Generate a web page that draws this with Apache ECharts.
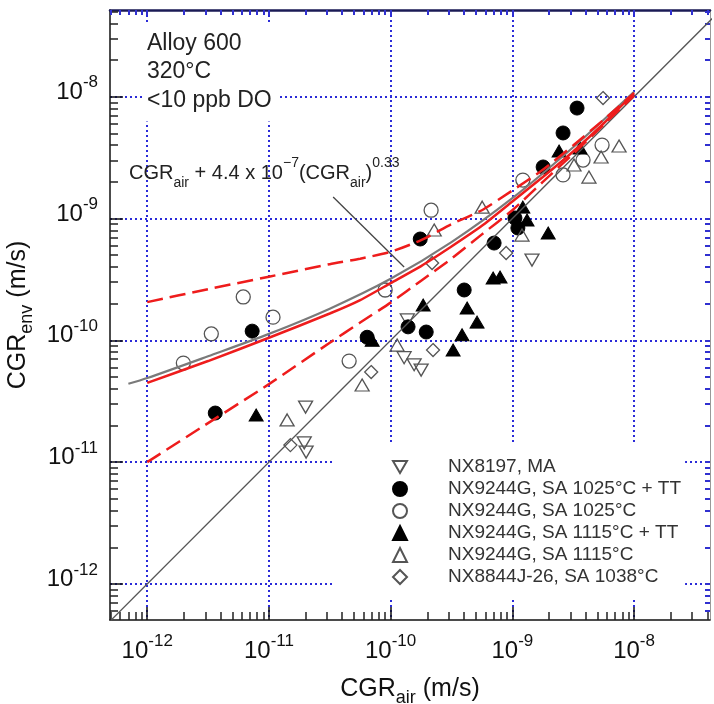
<!DOCTYPE html>
<html><head><meta charset="utf-8">
<script src="https://cdn.jsdelivr.net/npm/echarts@6/dist/echarts.min.js"></script>
<style>html,body{margin:0;padding:0;background:#fff}#c{width:714px;height:704px}</style>
</head><body><div id="c"></div>
<script>
const FONT = '"Liberation Sans", Arial, Helvetica, sans-serif';

// ---- axis extents (log10 exponents) and decade ticks ----
const X_RANGE = [-12.306, -7.376];
const Y_RANGE = [-12.296, -7.288];
const DECADES = [-12, -11, -10, -9, -8];

// ---- legend / series names ----
const NAMES = [
  'NX8197, MA',
  'NX9244G, SA 1025°C + TT',
  'NX9244G, SA 1025°C',
  'NX9244G, SA 1115°C + TT',
  'NX9244G, SA 1115°C',
  'NX8844J-26, SA 1038°C'
];

// ---- data points [CGR_air, CGR_env] (m/s) ----
const NX8197_MA = [[2.0e-11,2.83e-11],[1.95e-11,1.44e-11],[2.02e-11,1.21e-11],[1.37e-10,1.47e-10],
  [1.29e-10,7.2e-11],[1.56e-10,6.3e-11],[1.78e-10,5.7e-11],[1.45e-9,4.56e-10]];
const SA1025_TT = [[3.62e-12,2.53e-11],[7.28e-12,1.19e-10],[6.41e-11,1.06e-10],[1.39e-10,1.29e-10],
  [1.96e-10,1.17e-10],[1.75e-10,6.79e-10],[4.02e-10,2.59e-10],[7.08e-10,6.29e-10],[1.05e-9,1.01e-9],
  [1.11e-9,8.36e-10],[1.79e-9,2.65e-9],[2.61e-9,5.04e-9],[3.40e-9,8.07e-9]];
const SA1025 = [[1.98e-12,6.51e-11],[3.36e-12,1.13e-10],[6.15e-12,2.27e-10],[1.08e-11,1.55e-10],
  [4.56e-11,6.76e-11],[9.01e-11,2.59e-10],[2.15e-10,1.17e-9],[1.22e-9,2.07e-9],[2.61e-9,2.28e-9],
  [3.81e-9,3.02e-9],[5.46e-9,4.01e-9]];
const SA1115_TT = [[7.85e-12,2.44e-11],[7.05e-11,1.0e-10],[1.85e-10,1.95e-10],[3.26e-10,8.32e-11],
  [3.86e-10,1.11e-10],[4.25e-10,1.84e-10],[5.13e-10,1.41e-10],[6.95e-10,3.25e-10],[7.92e-10,3.31e-10],
  [1.22e-9,1.24e-9],[1.32e-9,9.72e-10],[1.97e-9,7.60e-10],[2.42e-9,3.58e-9],[3.60e-9,3.79e-9]];
const SA1115 = [[1.41e-11,2.22e-11],[5.83e-11,4.30e-11],[1.13e-10,9.15e-11],[2.28e-10,8.05e-10],
  [5.65e-10,1.24e-9],[1.20e-9,7.32e-10],[3.21e-9,2.75e-9],[4.26e-9,2.19e-9],[5.36e-9,3.20e-9],
  [7.53e-9,3.94e-9]];
const NX8844J = [[1.50e-11,1.38e-11],[6.92e-11,5.49e-11],[2.23e-10,8.32e-11],[2.19e-10,4.31e-10],
  [8.89e-10,5.21e-10],[5.56e-9,9.75e-9]];

// ---- curves ----
const CURVE_X   = [1e-12, 3.16e-12, 1e-11, 3.16e-11, 5.62e-11, 1e-10, 1.78e-10, 3.16e-10, 5.62e-10, 1e-9, 1.78e-9, 3.16e-9, 5.62e-9, 1e-8];
const RED_SOLID = [4.47e-11, 6.76e-11, 1.05e-10, 1.66e-10, 2.14e-10, 2.95e-10, 4.07e-10, 5.89e-10, 8.71e-10, 1.38e-9, 2.19e-9, 3.55e-9, 6.03e-9, 1.07e-8];
const RED_UPPER = [2.06e-10, 2.63e-10, 3.33e-10, 4.22e-10, 4.68e-10, 5.33e-10, 6.65e-10, 9.0e-10, 1.17e-9, 1.70e-9, 2.51e-9, 3.98e-9, 6.46e-9, 1.07e-8];
const RED_LOWER = [1.0e-11, 2.09e-11, 4.37e-11, 9.55e-11, 1.40e-10, 2.04e-10, 3.09e-10, 4.68e-10, 7.41e-10, 1.17e-9, 2.0e-9, 3.39e-9, 5.89e-9, 1.02e-8];
const GREY_X = [7.0e-13, 1e-12, 3.16e-12, 1e-11, 3.16e-11, 1e-10, 3.16e-10, 1e-9, 3.16e-9, 1e-8];
const GREY_Y = [4.4e-11, 4.9e-11, 7.4e-11, 1.13e-10, 1.82e-10, 3.2e-10, 6.4e-10, 1.47e-9, 3.85e-9, 1.1e-8];
const DIAG = [[4.9e-13, 4.9e-13], [5e-8, 5e-8]];
const LEADER = [[3.37e-11, 1.50e-9], [1.29e-10, 4.0e-10]];

// ---- helpers ----
const L = pts => pts.map(p => [Math.log10(p[0]), Math.log10(p[1])]);
const zip = (xs, ys) => xs.map((x, i) => [x, ys[i]]);
function minors(range) {
  const out = [];
  for (let n = -13; n <= -7; n++) for (let k = 2; k <= 9; k++) {
    const v = n + Math.log10(k);
    if (v > range[0] && v < range[1]) out.push(v);
  }
  return out;
}
const expLabel = v => '{b|10}{e|-' + Math.abs(Math.round(v)) + '}';
const labelRich = {
  b: { fontSize: 24, lineHeight: 30, verticalAlign: 'bottom', fontFamily: FONT, color: '#111' },
  e: { fontSize: 17, lineHeight: 17, verticalAlign: 'top', fontFamily: FONT, color: '#111' }
};
const nameRich = {
  n: { fontSize: 25, lineHeight: 30, verticalAlign: 'top', fontFamily: FONT, color: '#111' },
  s: { fontSize: 18, lineHeight: 18, verticalAlign: 'bottom', padding: [21, 0, 0, 0], fontFamily: FONT, color: '#111' }
};
const GRID_LINE = { color: '#2b2bd8', width: 2, type: [2, 3] };

const hollow = { color: 'transparent', borderColor: '#555', borderWidth: 1.3, opacity: 1 };
const filled = { color: '#000', borderColor: '#000', borderWidth: 1, opacity: 1 };
const INV_TRI = 'path://M0,0 L14,0 L7,12 Z';

function scatter(name, data, symbol, size, style) {
  return { type: 'scatter', name, data: L(data), symbol, symbolSize: size,
    itemStyle: style, z: 2, xAxisIndex: 0, yAxisIndex: 0 };
}
function line(data, color, width, type, z, smooth) {
  return { type: 'line', data: L(data), showSymbol: false, symbol: 'none', smooth: smooth || false,
    lineStyle: { color, width, type }, z, silent: true, xAxisIndex: 0, yAxisIndex: 0 };
}

const option = {
  animation: false,
  backgroundColor: '#fff',
  grid: { left: 110, top: 10, width: 600, height: 610, containLabel: false, outerBoundsMode: 'none' },
  title: [
    { text: 'Alloy 600\n320°C\n<10 ppb DO', left: 143, top: 23, padding: [6, 8, 7, 4],
      backgroundColor: '#fff',
      textStyle: { fontSize: 23, lineHeight: 28.5, fontWeight: 'normal', color: '#222', fontFamily: FONT } },
    { text: '{n|CGR}{s|air}{n| + 4.4 x 10}{p|\u22127}{n|(CGR}{s|air}{n|)}{p|0.33}', left: 129, top: 156, padding: 0,
      textStyle: { fontWeight: 'normal', rich: {
        n: { fontSize: 20, lineHeight: 34, fontWeight: 'normal', fontFamily: FONT, color: '#222' },
        s: { fontSize: 14, lineHeight: 14, verticalAlign: 'bottom', fontWeight: 'normal', fontFamily: FONT, color: '#222' },
        p: { fontSize: 14, lineHeight: 14, verticalAlign: 'top', fontWeight: 'normal', fontFamily: FONT, color: '#222' } } } }
  ],
  legend: {
    data: NAMES.map((n, i) => i === 0 ? { name: n, icon: INV_TRI } : { name: n }),
    orient: 'vertical', left: 333, top: 445, padding: [11, 4, 12, 59],
    itemGap: 0, itemWidth: 14, itemHeight: 14, backgroundColor: '#fff', selectedMode: false,
    textStyle: { fontSize: 19, lineHeight: 22, color: '#333', fontFamily: FONT, padding: [0, 0, 0, 36] }
  },
  xAxis: [
    { type: 'value', min: X_RANGE[0], max: X_RANGE[1], position: 'bottom',
      axisLine: { show: true, onZero: false, lineStyle: { color: '#111', width: 1.5 } },
      axisTick: { show: true, inside: true, length: 13, customValues: DECADES, lineStyle: { color: '#111', width: 1.5 } },
      axisLabel: { show: true, customValues: DECADES, formatter: expLabel, margin: 13, rich: labelRich },
      splitLine: { show: true, lineStyle: GRID_LINE },
      name: '{n|CGR}{s|air}{n| (m/s)}', nameLocation: 'middle', nameGap: 44,
      nameTextStyle: { rich: nameRich } },
    { type: 'value', min: X_RANGE[0], max: X_RANGE[1], position: 'bottom',
      axisLine: { show: false },
      axisTick: { show: true, inside: true, length: 8, customValues: minors(X_RANGE), lineStyle: { color: '#222', width: 1.5 } },
      axisLabel: { show: false }, splitLine: { show: false } },
    { type: 'value', min: X_RANGE[0], max: X_RANGE[1], position: 'top',
      axisLine: { show: true, onZero: false, lineStyle: { color: '#1a1a55', width: 2.5 } },
      axisTick: { show: true, inside: true, length: 5, customValues: DECADES.concat(minors(X_RANGE)), lineStyle: { color: '#3030d0', width: 2 } },
      axisLabel: { show: false }, splitLine: { show: false } }
  ],
  yAxis: [
    { type: 'value', min: Y_RANGE[0], max: Y_RANGE[1], position: 'left',
      axisLine: { show: true, onZero: false, lineStyle: { color: '#111', width: 1.5 } },
      axisTick: { show: true, inside: true, length: 13, customValues: DECADES, lineStyle: { color: '#111', width: 1.5 } },
      axisLabel: { show: true, customValues: DECADES, formatter: expLabel, margin: 12, padding: [0, 0, 15, 0], rich: labelRich },
      splitLine: { show: true, lineStyle: GRID_LINE },
      name: '{n|CGR}{s|env}{n| (m/s)}', nameLocation: 'middle', nameGap: 60,
      nameTextStyle: { rich: nameRich } },
    { type: 'value', min: Y_RANGE[0], max: Y_RANGE[1], position: 'left',
      axisLine: { show: false },
      axisTick: { show: true, inside: true, length: 8, customValues: minors(Y_RANGE), lineStyle: { color: '#222', width: 1.5 } },
      axisLabel: { show: false }, splitLine: { show: false } },
    { type: 'value', min: Y_RANGE[0], max: Y_RANGE[1], position: 'right',
      axisLine: { show: true, onZero: false, lineStyle: { color: '#999', width: 1 } },
      axisTick: { show: true, inside: true, length: 5, customValues: DECADES.concat(minors(Y_RANGE)), lineStyle: { color: '#3030d0', width: 2 } },
      axisLabel: { show: false }, splitLine: { show: false } }
  ],
  series: [
    scatter(NAMES[0], NX8197_MA, INV_TRI, [14, 12], hollow),
    scatter(NAMES[1], SA1025_TT, 'circle', 14, filled),
    scatter(NAMES[2], SA1025, 'circle', 14, hollow),
    scatter(NAMES[3], SA1115_TT, 'triangle', [14, 12], filled),
    scatter(NAMES[4], SA1115, 'triangle', [14, 12], hollow),
    scatter(NAMES[5], NX8844J, 'diamond', [13, 13], hollow),
    line(DIAG, '#555', 1.3, 'solid', 3),
    line(zip(GREY_X, GREY_Y), '#7a7a7a', 2.2, 'solid', 3, 0.3),
    line(LEADER, '#444', 1.3, 'solid', 3),
    line(zip(CURVE_X, RED_SOLID), '#ee1c1c', 2.5, 'solid', 4, 0.2),
    line(zip(CURVE_X, RED_UPPER), '#ee1c1c', 2.5, [16, 7], 4, 0.2),
    line(zip(CURVE_X, RED_LOWER), '#ee1c1c', 2.5, [16, 7], 4, 0.2)
  ]
};
const chart = echarts.init(document.getElementById('c'), null, { renderer: 'canvas' });
chart.setOption(option);
</script>
</body></html>
